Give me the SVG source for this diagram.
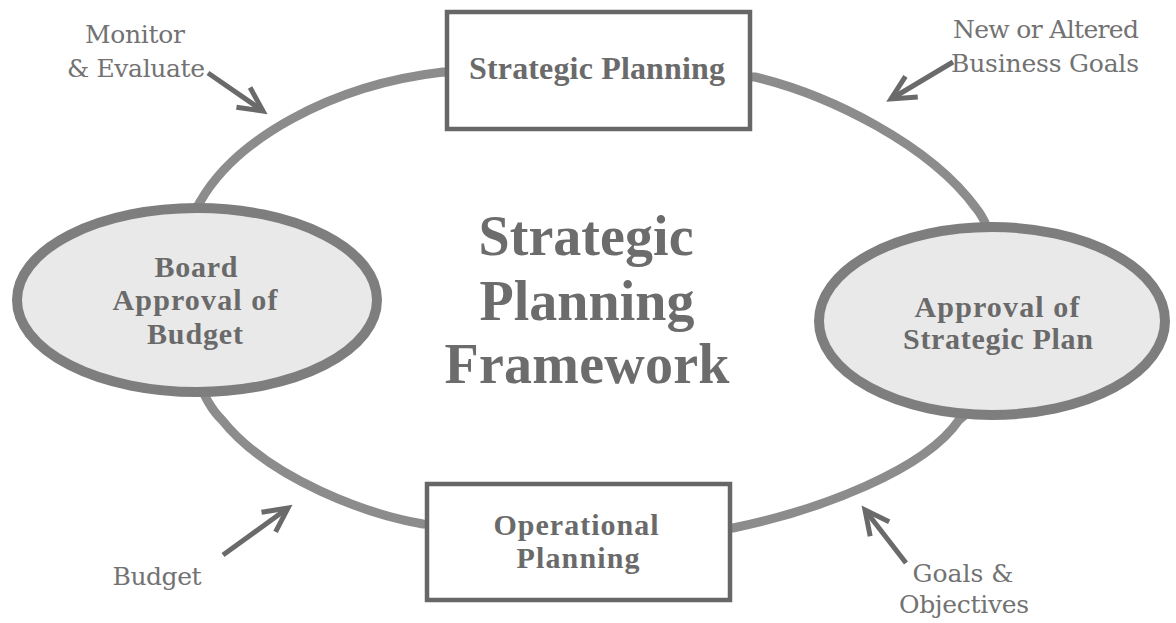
<svg xmlns="http://www.w3.org/2000/svg" width="1176" height="623" viewBox="0 0 1176 623">
<defs>
<style>
.ring{fill:none;stroke:#8c8c8c;stroke-width:9}
.box{fill:#fff;stroke:#676767;stroke-width:4.5}
.ell{fill:#e9e9e9;stroke:#7e7e7e;stroke-width:10}
.lbl{font-family:'Liberation Serif','Times New Roman',serif;font-weight:bold;fill:#6a6a6a;text-anchor:middle}
.ttl{font-family:'Liberation Serif','Times New Roman',serif;font-weight:bold;fill:#6c6c6c;text-anchor:middle;font-size:56px}
.ann{font-family:'DejaVu Serif',serif;font-weight:normal;fill:#727272;text-anchor:middle;font-size:25px}
.arr{fill:none;stroke:#6a6a6a;stroke-width:5;marker-end:url(#chev)}
</style>
<marker id="chev" markerUnits="userSpaceOnUse" markerWidth="40" markerHeight="40" viewBox="-30 -20 40 40" refX="0" refY="0" orient="auto" overflow="visible">
<path d="M -24 -12 L 0 0 L -24 12" fill="none" stroke="#6a6a6a" stroke-width="5" stroke-linejoin="miter"/>
</marker>
</defs>
<rect width="1176" height="623" fill="#fff"/>
<g id="connectors">
<path class="ring" d="M 443 72 L 755 77 C 830 95 930 145 976 208 C 1010 250 1010 380 959 420 C 925 470 820 510 733 528 L 423 524 C 370 515 270 480 222 420 C 180 380 170 250 200 202 C 235 140 330 85 443 72 Z"/>
<line class="arr" x1="208" y1="73" x2="263" y2="111"/>
<line class="arr" x1="953" y1="62" x2="891" y2="99"/>
<line class="arr" x1="223" y1="555" x2="288" y2="508"/>
<line class="arr" x1="906" y1="563" x2="865" y2="510"/>
</g>
<g id="strategic-planning">
<rect class="box" x="447" y="12" width="303" height="117"/>
<text class="lbl" x="597" y="79" font-size="32" textLength="256">Strategic Planning</text>
</g>
<g id="approval-strategic-plan">
<ellipse class="ell" cx="992" cy="321" rx="173" ry="94"/>
<text class="lbl" x="997" y="317" font-size="30" textLength="165">Approval of</text>
<text class="lbl" x="998" y="349" font-size="30" textLength="190">Strategic Plan</text>
</g>
<g id="operational-planning">
<rect class="box" x="427" y="484" width="303" height="116"/>
<text class="lbl" x="576" y="535" font-size="30" textLength="165">Operational</text>
<text class="lbl" x="578" y="568" font-size="30" textLength="123">Planning</text>
</g>
<g id="board-approval">
<ellipse class="ell" cx="197" cy="300" rx="180" ry="92"/>
<text class="lbl" x="196" y="277" font-size="30" textLength="83">Board</text>
<text class="lbl" x="195" y="310" font-size="30" textLength="165">Approval of</text>
<text class="lbl" x="195" y="344" font-size="30" textLength="96">Budget</text>
</g>
<g id="title">
<text class="ttl" x="586" y="255" textLength="215">Strategic</text>
<text class="ttl" x="587" y="320" textLength="215">Planning</text>
<text class="ttl" x="587" y="383" textLength="285">Framework</text>
</g>
<g id="annotations">
<text class="ann" x="135" y="43" textLength="100">Monitor</text>
<text class="ann" x="136" y="77" textLength="138">&amp; Evaluate</text>
<text class="ann" x="1046" y="38" textLength="186">New or Altered</text>
<text class="ann" x="1045" y="72" textLength="188">Business Goals</text>
<text class="ann" x="157" y="585" textLength="89">Budget</text>
<text class="ann" x="963" y="582" textLength="101">Goals &amp;</text>
<text class="ann" x="964" y="613" textLength="130">Objectives</text>
</g>
</svg>
